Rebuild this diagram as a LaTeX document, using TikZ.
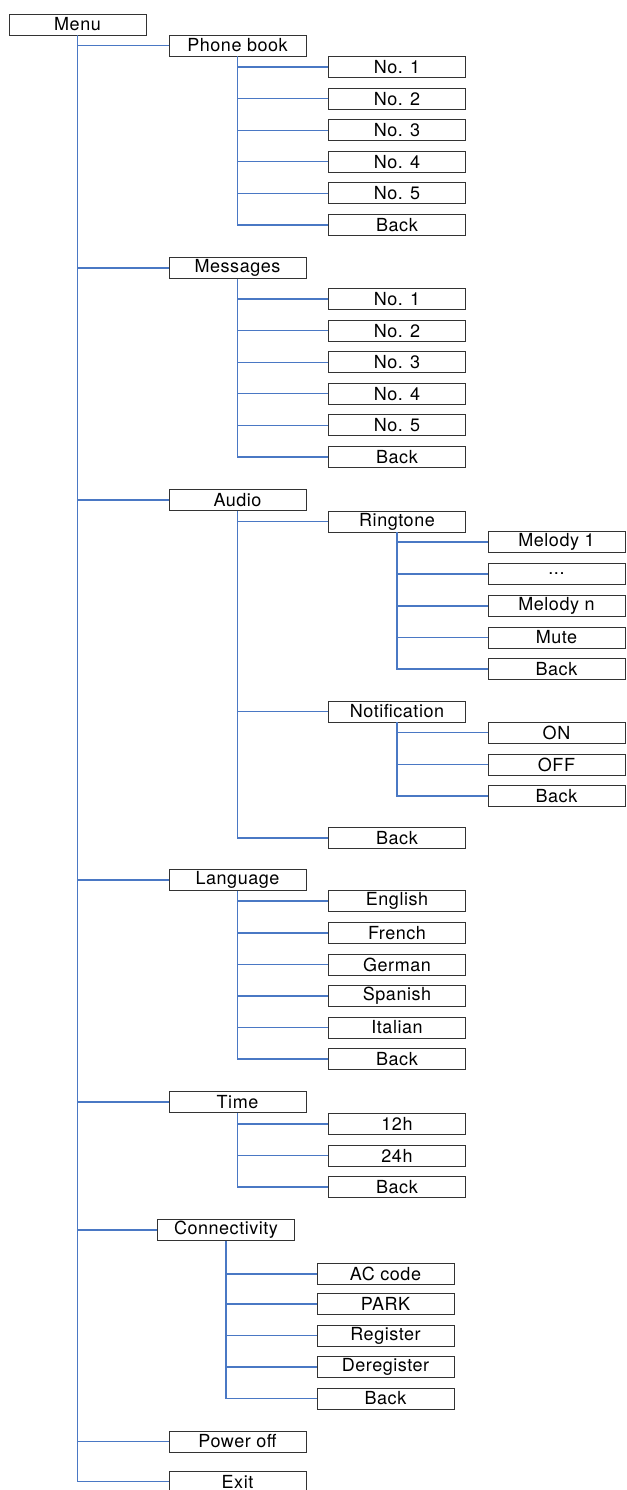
\documentclass[tikz,border=0pt]{standalone}
\usepackage{fontspec}
\setmainfont[LetterSpace=3]{TeX Gyre Heros}
\usepackage{xcolor}
\usepackage{tikz}
\usetikzlibrary{calc}
\definecolor{linkblue}{RGB}{74,120,196}
\tikzset{
    item/.style={draw=black!80, line width=0.9pt, minimum width=137pt,
        minimum height=21pt, inner sep=0pt,
        font=\fontsize{18}{19}\selectfont},
    link/.style={draw=linkblue, line width=1.1pt}
}

\begin{document}
\begin{tikzpicture}[x=1pt,y=-1pt]
        \useasboundingbox (0,0) rectangle (626,1490);

        % top level
        \node[item] (menu) at (77.5,24.5) {Menu};

        \node[item] (phone) at (237.5,45.5)  {Phone book};
        \node[item] (msg)   at (237.5,268)   {Messages};
        \node[item] (audio) at (237.5,500)   {Audio};
        \node[item] (lang)  at (237.5,880)   {Language};
        \node[item] (time)  at (237.5,1102)  {Time};
        \node[item] (conn)  at (226,1230)    {Connectivity};
        \node[item] (power) at (237.5,1441.5){Power off};
        \node[item] (exit)  at (237.5,1481.5)  {Exit};

        % phone book
        \node[item] (pb1)    at (397,67)    {No. 1};
        \node[item] (pb2)    at (397,98.6)  {No. 2};
        \node[item] (pb3)    at (397,130.2) {No. 3};
        \node[item] (pb4)    at (397,161.8) {No. 4};
        \node[item] (pb5)    at (397,193.4) {No. 5};
        \node[item] (pbback) at (397,225)   {Back};

        % messages
        \node[item] (ms1)    at (397,299)   {No. 1};
        \node[item] (ms2)    at (397,330.6) {No. 2};
        \node[item] (ms3)    at (397,362.2) {No. 3};
        \node[item] (ms4)    at (397,393.8) {No. 4};
        \node[item] (ms5)    at (397,425.4) {No. 5};
        \node[item] (msback) at (397,457)   {Back};

        % audio
        \node[item] (ring)      at (397,521.5) {Ringtone};
        \node[item] (mel1)      at (556.5,542) {Melody 1};
        \node[item] (meldots)   at (556.5,574) {...};
        \node[item] (meln)      at (556.5,606) {Melody n};
        \node[item] (mute)      at (556.5,637.5) {Mute};
        \node[item] (ringback)  at (556.5,669) {Back};
        \node[item] (notif)     at (397,711.5) {Notification};
        \node[item] (on)        at (556.5,732.5) {ON};
        \node[item] (off)       at (556.5,764.5) {OFF};
        \node[item] (notifback) at (556.5,796) {Back};
        \node[item] (audioback) at (397,838)   {Back};

        % language
        \node[item] (en)       at (397,901)    {English};
        \node[item] (fr)       at (397,933)    {French};
        \node[item] (de)       at (397,964.5)  {German};
        \node[item] (es)       at (397,996)    {Spanish};
        \node[item] (it)       at (397,1027.5) {Italian};
        \node[item] (langback) at (397,1059)   {Back};

        % time
        \node[item] (h12)      at (397,1124)   {12h};
        \node[item] (h24)      at (397,1155.5) {24h};
        \node[item] (timeback) at (397,1187)   {Back};

        % connectivity
        \node[item] (ac)       at (385.5,1274)   {AC code};
        \node[item] (park)     at (385.5,1304)   {PARK};
        \node[item] (reg)      at (385.5,1335.5) {Register};
        \node[item] (dereg)    at (385.5,1367)   {Deregister};
        \node[item] (connback) at (385.5,1398.5) {Back};

        % connectors
        \foreach \c in {phone,msg,audio,lang,time,conn,power,exit}
            \draw[link] (menu.south) |- (\c.west);
        \foreach \c in {pb1,pb2,pb3,pb4,pb5,pbback}
            \draw[link] (phone.south) |- (\c.west);
        \foreach \c in {ms1,ms2,ms3,ms4,ms5,msback}
            \draw[link] (msg.south) |- (\c.west);
        \foreach \c in {ring,notif,audioback}
            \draw[link] (audio.south) |- (\c.west);
        \foreach \c in {mel1,meldots,meln,mute,ringback}
            \draw[link] (ring.south) |- (\c.west);
        \foreach \c in {on,off,notifback}
            \draw[link] (notif.south) |- (\c.west);
        \foreach \c in {en,fr,de,es,it,langback}
            \draw[link] (lang.south) |- (\c.west);
        \foreach \c in {h12,h24,timeback}
            \draw[link] (time.south) |- (\c.west);
        \foreach \c in {ac,park,reg,dereg,connback}
            \draw[link] (conn.south) |- (\c.west);
    \end{tikzpicture}
\end{document}
